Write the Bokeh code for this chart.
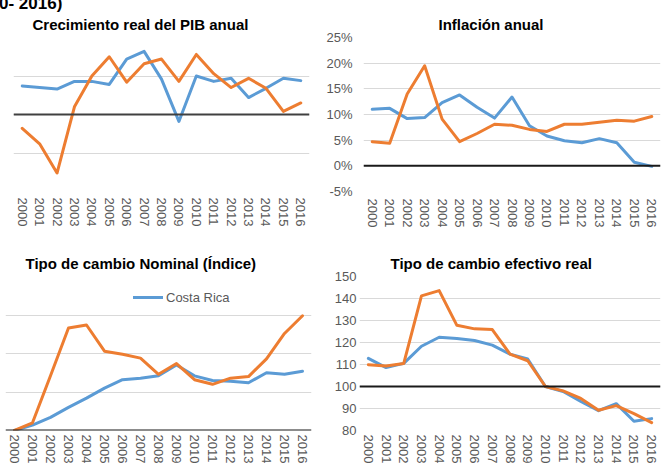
from bokeh.plotting import figure
from bokeh.layouts import column, row
from bokeh.models import Range1d, FactorRange, FixedTicker, Span, Div, PrintfTickFormatter
from bokeh.embed import file_html
from bokeh.resources import INLINE

years = [str(y) for y in range(2000, 2017)]

# Crecimiento real del PIB anual (%)
pib_cr = [3.7, 3.5, 3.3, 4.3, 4.3, 3.9, 7.2, 8.2, 4.6, -0.9, 5.0, 4.3, 4.7, 2.2, 3.4, 4.7, 4.4]
pib_uy = [-1.8, -3.8, -7.6, 1.0, 5.0, 7.5, 4.2, 6.6, 7.2, 4.3, 7.8, 5.3, 3.5, 4.7, 3.4, 0.4, 1.5]

# Inflación anual (%)
inf_cr = [11.0, 11.2, 9.2, 9.4, 12.3, 13.8, 11.4, 9.3, 13.4, 7.8, 5.8, 4.9, 4.5, 5.3, 4.5, 0.7, -0.1]
inf_uy = [4.7, 4.4, 14.0, 19.5, 9.1, 4.7, 6.3, 8.1, 7.9, 7.1, 6.7, 8.1, 8.1, 8.5, 8.9, 8.7, 9.6]

# Tipo de cambio Nominal (Índice)
tcn_cr = [100, 107, 117, 130, 142, 155, 166, 168, 171, 185, 171, 165, 164, 162, 175, 173, 177]
tcn_uy = [100, 110, 171, 233, 237, 203, 199, 194, 173, 187, 166, 160, 168, 170, 193, 226, 249]

# Tipo de cambio efectivo real
tcr_cr = [112.8, 108.6, 110.5, 118.3, 122.4, 121.8, 120.9, 118.8, 114.7, 112.5, 100.0, 97.7, 93.2, 89.0, 92.2, 84.2, 85.4]
tcr_uy = [109.9, 109.3, 110.5, 141.2, 143.6, 127.8, 126.2, 125.9, 114.7, 111.7, 100.0, 98.0, 94.6, 89.2, 91.3, 87.7, 83.6]

ticks_pib = [-10, -5, 0, 5, 10]
ticks_inf = [-5, 0, 5, 10, 15, 20, 25]
ticks_tcn = [100, 150, 200, 250, 300]
ticks_tcr = [80, 90, 100, 110, 120, 130, 140, 150]

BLUE = "#5B9BD5"
ORANGE = "#ED7D31"
GRID = "#D9D9D9"
LABEL = "#595959"
FONT = "Liberation Sans"


def make(title, w, h, bl, br, bt, bb, yr, ticks, cr, uy, show_y, title_off,
         zero, zero_color, x_standoff, y_standoff=8, legend=False):
    p = figure(width=w, height=h, x_range=FactorRange(*years), y_range=Range1d(*yr),
               output_backend="svg", toolbar_location=None,
               min_border_left=bl, min_border_right=br, min_border_top=bt, min_border_bottom=bb)
    p.outline_line_color = None
    p.background_fill_color = "white"
    p.border_fill_color = "white"
    p.title.text = title
    p.title.align = "left"
    p.title.offset = title_off
    p.title.text_font = FONT
    p.title.text_font_size = "15px"
    p.title.text_font_style = "bold"
    p.title.text_color = "black"

    p.xgrid.visible = False
    p.ygrid.ticker = FixedTicker(ticks=ticks)
    p.ygrid.grid_line_color = GRID
    p.ygrid.grid_line_width = 1

    xa = p.xaxis[0]
    xa.axis_line_color = None
    xa.major_tick_line_color = None
    xa.minor_tick_line_color = None
    xa.major_tick_out = 0
    xa.major_tick_in = 0
    xa.major_label_orientation = "vertical"
    xa.major_label_standoff = x_standoff
    xa.major_label_text_font = FONT
    xa.major_label_text_font_size = "13px"
    xa.major_label_text_color = LABEL

    ya = p.yaxis[0]
    ya.ticker = FixedTicker(ticks=ticks)
    ya.axis_line_color = None
    ya.major_tick_line_color = None
    ya.minor_tick_line_color = None
    ya.major_tick_out = 0
    ya.major_tick_in = 0
    ya.major_label_standoff = y_standoff
    ya.major_label_text_font = FONT
    ya.major_label_text_font_size = "13px"
    ya.major_label_text_color = LABEL
    if not show_y:
        ya.visible = False

    p.add_layout(Span(location=zero, dimension="width", line_color=zero_color, line_width=2))

    if legend:
        p.line(years, cr, line_color=BLUE, line_width=3, line_join="round", line_cap="round",
               legend_label="Costa Rica")
    else:
        p.line(years, cr, line_color=BLUE, line_width=3, line_join="round", line_cap="round")
    p.line(years, uy, line_color=ORANGE, line_width=3, line_join="round", line_cap="round")
    return p


p1 = make("Crecimiento real del PIB anual", 320, 240, 13, 11, 36, 47, (-10, 10), ticks_pib,
          pib_cr, pib_uy, False, 19, 0, "#404040", 6)

p2 = make("Inflación anual", 351, 240, 43, 11, 37, 49, (-5, 25), ticks_inf,
          inf_cr, inf_uy, True, 75, 0, "#1a1a1a", 7, y_standoff=11)
p2.yaxis[0].formatter = PrintfTickFormatter(format="%d%%")

p3 = make("Tipo de cambio Nominal (Índice)", 320, 226, 5, 9, 36, 34, (100, 300), ticks_tcn,
          tcn_cr, tcn_uy, False, 20, 100, "#1a1a1a", 4, legend=True)
p3.legend.location = (128, 123)
p3.legend.glyph_width = 30
p3.legend.label_standoff = 3
p3.legend.padding = 0
p3.legend.margin = 0
p3.legend.spacing = 0
p3.legend.border_line_color = None
p3.legend.background_fill_alpha = 0
p3.legend.label_text_font = FONT
p3.legend.label_text_font_size = "13px"
p3.legend.label_text_color = LABEL

p4 = make("Tipo de cambio efectivo real", 351, 226, 39, 11, 36, 35, (80, 150), ticks_tcr,
          tcr_cr, tcr_uy, True, 31, 100, "#1a1a1a", 4, y_standoff=3)

# Fragment of the (cropped) overall heading
heading = Div(text="0- 2016)", styles={
    "position": "absolute", "left": "-6px", "top": "-11px", "z-index": "10",
    "font-family": "Liberation Sans", "font-size": "17px", "font-weight": "bold",
    "color": "black", "white-space": "nowrap", "line-height": "normal",
})

layout = column(heading, row(p1, p2, spacing=0), row(p3, p4, spacing=0), spacing=0)

open("out.html", "w").write(file_html(layout, INLINE))
